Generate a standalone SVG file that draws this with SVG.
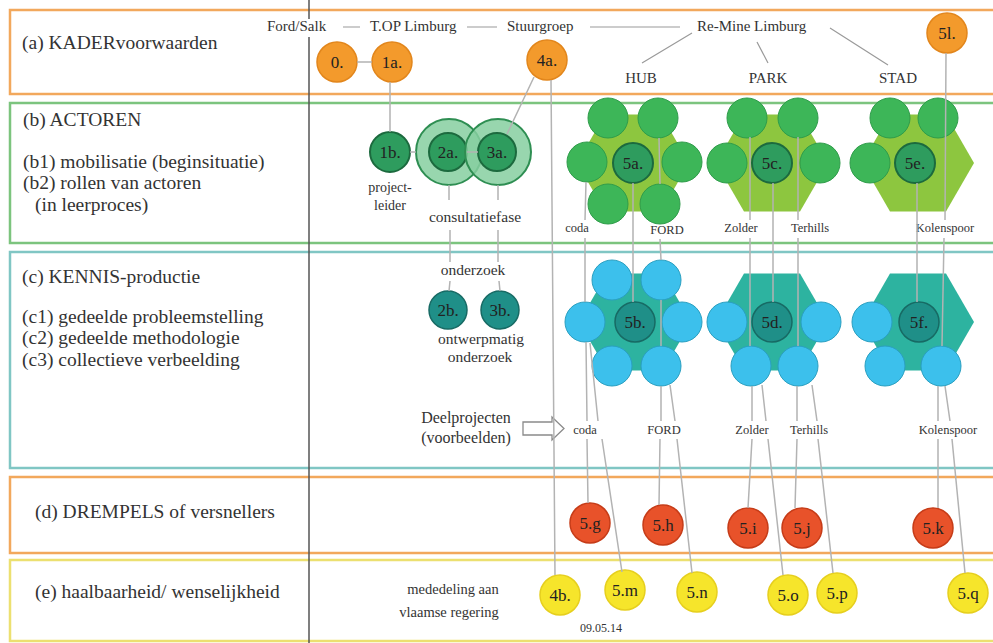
<svg xmlns="http://www.w3.org/2000/svg" width="993" height="643" viewBox="0 0 993 643">
<style>
text{font-family:"Liberation Serif","Times New Roman",serif;fill:#333}
.t{font-size:19.5px}
.s{font-size:15px}
.m{font-size:15.5px;text-anchor:middle}
.l{font-size:12.5px;text-anchor:middle}
.n{font-size:17px;text-anchor:middle;fill:#222}
.band{fill:none;stroke-width:2.5}
.ln{stroke:#b3b3b3;stroke-width:1.5;fill:none}
.hl{stroke:#9a9a9a;stroke-width:1.2;fill:none}
.or{fill:#f39a2c;stroke:#e2861c;stroke-width:1.5}
.rd{fill:#e8522a;stroke:#c63c18;stroke-width:1.5}
.ye{fill:#f6e52b;stroke:#e6cf1e;stroke-width:1.5}
.gc{fill:#2e9c5e;stroke:#1c6a3e;stroke-width:2}
.gw{fill:#86cfa0;fill-opacity:0.85;stroke:#2e8e52;stroke-width:2}
.go{fill:#3db658;stroke:#2f9c4a;stroke-width:1}
.gh{fill:#8dc63f}
.th{fill:#2db3a0}
.bo{fill:#3cc0ec;stroke:#2a9fc0;stroke-width:1}
.tc{fill:#1f8f88;stroke:#176a64;stroke-width:1.5}
</style>

<g id="bands">
<rect class="band" x="10" y="10" width="1000" height="84" stroke="#f2a85c"/>
<rect class="band" x="10" y="103" width="1000" height="140" stroke="#7cc47e"/>
<rect class="band" x="10" y="252" width="1000" height="216" stroke="#80c6c4"/>
<rect class="band" x="10" y="477" width="1000" height="76" stroke="#f2a85c"/>
<rect class="band" x="10" y="560" width="1000" height="81" stroke="#ece070"/>
<line x1="309" y1="0" x2="309" y2="19" stroke="#555" stroke-width="1.5"/>
<line x1="309" y1="37" x2="309" y2="643" stroke="#555" stroke-width="1.5"/>
</g>

<g id="row-labels">
<text class="t" x="22" y="49">(a) KADERvoorwaarden</text>
<text class="t" x="23" y="126">(b) ACTOREN</text>
<text class="t" x="23" y="168">(b1) mobilisatie (beginsituatie)</text>
<text class="t" x="23" y="189">(b2) rollen van actoren</text>
<text class="t" x="35" y="211">(in leerproces)</text>
<text class="t" x="22" y="283">(c) KENNIS-productie</text>
<text class="t" x="22" y="323">(c1) gedeelde probleemstelling</text>
<text class="t" x="22" y="344">(c2) gedeelde methodologie</text>
<text class="t" x="22" y="366">(c3) collectieve verbeelding</text>
<text class="t" x="35" y="518">(d) DREMPELS of versnellers</text>
<text class="t" x="35" y="598">(e) haalbaarheid/ wenselijkheid</text>
</g>

<g id="header">
<text class="s" x="267" y="31">Ford/Salk</text>
<text class="s" x="370" y="31">T.OP Limburg</text>
<text class="s" x="507" y="31">Stuurgroep</text>
<text class="s" x="697" y="31">Re-Mine Limburg</text>
<text class="s" x="641" y="83" text-anchor="middle">HUB</text>
<text class="s" x="768" y="83" text-anchor="middle">PARK</text>
<text class="s" x="898" y="83" text-anchor="middle">STAD</text>
</g>

<g id="hexagons">
<polygon class="gh" points="689,163 661,211.5 605,211.5 577,163 605,114.5 661,114.5"/>
<polygon class="gh" points="828,163 800,211.5 744,211.5 716,163 744,114.5 800,114.5"/>
<polygon class="gh" points="974,163 946,211.5 890,211.5 862,163 890,114.5 946,114.5"/>
<polygon class="th" points="691,322 663,370.5 607,370.5 579,322 607,273.5 663,273.5"/>
<polygon class="th" points="828,322 800,370.5 744,370.5 716,322 744,273.5 800,273.5"/>
<polygon class="th" points="974,322 946,370.5 890,370.5 862,322 890,273.5 946,273.5"/>
</g>

<g id="n0"><circle class="or" cx="337" cy="62" r="20"/><text class="n" x="337" y="68">0.</text></g>
<g id="n1a"><circle class="or" cx="392" cy="62" r="20"/><text class="n" x="392" y="68">1a.</text></g>
<g id="n4a"><circle class="or" cx="547" cy="60" r="20"/><text class="n" x="547" y="66">4a.</text></g>
<g id="n5l"><circle class="or" cx="947" cy="33" r="20"/><text class="n" x="947" y="39">5l.</text></g>

<g id="n1b"><circle class="gc" cx="390" cy="152" r="20"/><text class="n" x="390" y="158">1b.</text>
<text x="390" y="192" text-anchor="middle" style="font-size:14px">project-</text><text x="390" y="210" text-anchor="middle" style="font-size:14px">leider</text></g>
<g id="n2a"><circle class="gw" cx="449" cy="152" r="33"/><circle class="gc" cx="448" cy="152" r="19"/><text class="n" x="448" y="158">2a.</text></g>
<g id="n3a"><circle class="gw" cx="498" cy="152" r="33"/><circle class="gc" cx="497" cy="152" r="19"/><text class="n" x="497" y="158">3a.</text></g>
<g id="consultatie"><text class="m" x="475" y="222">consultatiefase</text></g>

<g id="onderzoek"><text class="m" x="473" y="275">onderzoek</text></g>
<g id="n2b"><circle class="tc" cx="448" cy="310" r="19"/><text class="n" x="448" y="316">2b.</text></g>
<g id="n3b"><circle class="tc" cx="500" cy="310" r="19"/><text class="n" x="500" y="316">3b.</text></g>
<g id="ontwerp"><text class="m" x="481" y="344">ontwerpmatig</text><text class="m" x="480" y="362">onderzoek</text></g>

<g id="deelprojecten">
<text class="m" x="466" y="423" style="font-size:16px">Deelprojecten</text>
<text class="m" x="466" y="443" style="font-size:16px">(voorbeelden)</text>
<polygon points="523,422 552,422 552,417 564,428.5 552,440 552,435 523,435" fill="#fff" stroke="#8a8a8a" stroke-width="1.3"/>
</g>

<g id="n5a">
<circle class="go" cx="608" cy="118" r="20"/><circle class="go" cx="658" cy="118" r="20"/>
<circle class="go" cx="587" cy="162" r="20"/><circle class="go" cx="682" cy="162" r="20"/>
<circle class="go" cx="608" cy="204" r="20"/><circle class="go" cx="660" cy="204" r="20"/>
<circle class="gc" cx="633" cy="163" r="20"/><text class="n" x="633" y="169">5a.</text>
</g>
<g id="n5c">
<circle class="go" cx="747" cy="118" r="20"/><circle class="go" cx="798" cy="118" r="20"/>
<circle class="go" cx="727" cy="163" r="20"/><circle class="go" cx="820" cy="163" r="20"/>
<circle class="gc" cx="772" cy="163" r="20"/><text class="n" x="772" y="169">5c.</text>
</g>
<g id="n5e">
<circle class="go" cx="890" cy="118" r="20"/><circle class="go" cx="938" cy="118" r="20"/>
<circle class="go" cx="870" cy="163" r="20"/>
<circle class="gc" cx="915" cy="163" r="20"/><text class="n" x="915" y="169">5e.</text>
</g>

<g id="n5b">
<circle class="bo" cx="612" cy="280" r="20"/><circle class="bo" cx="661" cy="280" r="20"/>
<circle class="bo" cx="585" cy="322" r="20"/><circle class="bo" cx="682" cy="322" r="20"/>
<circle class="bo" cx="612" cy="366" r="20"/><circle class="bo" cx="661" cy="366" r="20"/>
<circle class="tc" cx="635" cy="322" r="20"/><text class="n" x="635" y="328">5b.</text>
</g>
<g id="n5d">
<circle class="bo" cx="727" cy="322" r="20"/><circle class="bo" cx="821" cy="322" r="20"/>
<circle class="bo" cx="751" cy="366" r="20"/><circle class="bo" cx="798" cy="366" r="20"/>
<circle class="tc" cx="772" cy="322" r="20"/><text class="n" x="772" y="328">5d.</text>
</g>
<g id="n5f">
<circle class="bo" cx="872" cy="322" r="20"/>
<circle class="bo" cx="885" cy="366" r="20"/><circle class="bo" cx="941" cy="366" r="20"/>
<circle class="tc" cx="919" cy="322" r="20"/><text class="n" x="919" y="328">5f.</text>
</g>

<g id="project-labels">
<text class="l" x="577" y="232">coda</text>
<text class="l" x="667" y="234">FORD</text>
<text class="l" x="741" y="232">Zolder</text>
<text class="l" x="810" y="232">Terhills</text>
<text class="l" x="945" y="232">Kolenspoor</text>
<text class="l" x="585" y="434">coda</text>
<text class="l" x="664" y="434">FORD</text>
<text class="l" x="752" y="434">Zolder</text>
<text class="l" x="809" y="434">Terhills</text>
<text class="l" x="948" y="434">Kolenspoor</text>
</g>

<g id="n5g"><circle class="rd" cx="590" cy="523" r="20"/><text class="n" x="590" y="529">5.g</text></g>
<g id="n5h"><circle class="rd" cx="663" cy="525" r="20"/><text class="n" x="663" y="531">5.h</text></g>
<g id="n5i"><circle class="rd" cx="748" cy="528" r="20"/><text class="n" x="748" y="534">5.i</text></g>
<g id="n5j"><circle class="rd" cx="802" cy="528" r="20"/><text class="n" x="802" y="534">5.j</text></g>
<g id="n5k"><circle class="rd" cx="933" cy="528" r="20"/><text class="n" x="933" y="534">5.k</text></g>

<g id="mededeling">
<text x="453" y="594" text-anchor="middle" style="font-size:14.5px">mededeling aan</text>
<text x="449" y="617" text-anchor="middle" style="font-size:14.5px">vlaamse regering</text>
<text x="601" y="632" text-anchor="middle" style="font-size:12px">09.05.14</text>
</g>
<g id="n4b"><circle class="ye" cx="560" cy="595" r="20"/><text class="n" x="560" y="601">4b.</text></g>
<g id="n5m"><circle class="ye" cx="625" cy="590" r="20"/><text class="n" x="625" y="596">5.m</text></g>
<g id="n5n"><circle class="ye" cx="697" cy="592" r="20"/><text class="n" x="697" y="598">5.n</text></g>
<g id="n5o"><circle class="ye" cx="788" cy="595" r="20"/><text class="n" x="788" y="601">5.o</text></g>
<g id="n5p"><circle class="ye" cx="837" cy="593" r="20"/><text class="n" x="837" y="599">5.p</text></g>
<g id="n5q"><circle class="ye" cx="968" cy="593" r="20"/><text class="n" x="968" y="599">5.q</text></g>

<g id="connectors">
<path class="hl" d="M343,27H360 M467,27H497 M590,27H680 M692,33L642,63 M757,42L768,63 M830,28L888,65"/>
<path class="ln" d="M357,62H372 M390,82V132 M410,152H416 M467,152H478 M534,77L507,134 M551,80L555,575"/>
<path class="ln" d="M449,185V200 M450,230V262 M450,281L449,291 M498,185V200 M498,230V262 M499,281L500,291"/>
<path class="ln" d="M586,182L585,220 M585,238V302 M586,342L587,421 M590,343L598,421 M587,439L588,503 M602,439L622,572"/>
<path class="ln" d="M659,138L660,184 M633,183V302 M660,239L661,260 M661,300V346 M661,386V421 M670,385L675,421 M660,439L659,505 M677,439L692,573"/>
<path class="ln" d="M750,137V220 M750,238V346 M773,183V302 M798,137V220 M798,238V346"/>
<path class="ln" d="M752,386V421 M762,385L766,421 M797,386V421 M812,385L817,421 M752,439L748,508 M768,439L783,575 M797,439L795,508 M818,439L833,573"/>
<path class="ln" d="M946,53L945,220 M944,238L942,346 M917,183V302 M938,386V421 M945,386L950,421 M938,439V508 M952,439L965,573"/>
</g>
</svg>
